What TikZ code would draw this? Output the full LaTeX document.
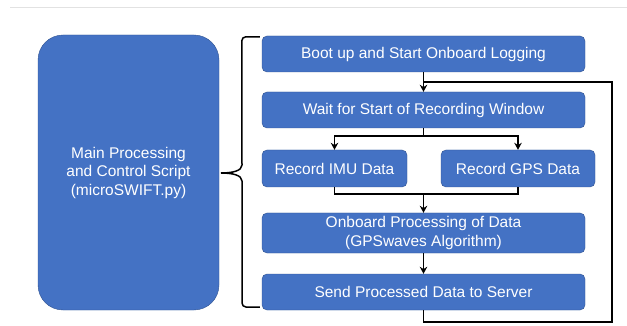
\documentclass[tikz,border=0pt]{standalone}
\usepackage{fontspec}
\setmainfont{Liberation Sans}
\usetikzlibrary{arrows.meta, positioning}
\definecolor{officeblue}{HTML}{4472C4}
\definecolor{edgeblue}{HTML}{2F528F}
\definecolor{rulegray}{HTML}{E2E2E2}

\begin{document}
\begin{tikzpicture}[x=1pt, y=-1pt,
  stepbox/.style={rectangle, rounded corners=5pt, draw=edgeblue, fill=officeblue, text=white, align=center, font=\fontsize{15.5}{18.5}\selectfont, inner sep=0pt},
  flow/.style={line width=1.5pt, >={Stealth[length=7pt,width=7.5pt]}}]
\useasboundingbox (0,0) rectangle (627,326);
\draw[rulegray, line width=1pt] (10,8) -- (627,8);

% Script box on the left
\node[stepbox, rounded corners=25pt, minimum width=181pt, minimum height=275pt] (main) at (128.5,172.5) {Main Processing\\and Control Script\\(microSWIFT.py)};

% Steps of the loop
\node[stepbox, minimum width=323pt, minimum height=36pt] (boot) at (423.5,54) {Boot up and Start Onboard Logging};
\node[stepbox, minimum width=323pt, minimum height=36pt] (wait) at (423.5,110) {Wait for Start of Recording Window};
\node[stepbox, minimum width=145pt, minimum height=37pt] (imu) at (334.5,168.5) {Record IMU Data};
\node[stepbox, minimum width=154pt, minimum height=37pt] (gps) at (518,168.5) {Record GPS Data};
\node[stepbox, minimum width=323pt, minimum height=40pt] (proc) at (423.5,233) {Onboard Processing of Data\\(GPSwaves Algorithm)};
\node[stepbox, minimum width=323pt, minimum height=36pt] (send) at (423.5,292) {Send Processed Data to Server};

% Brace
\coordinate (bracetop) at ([xshift=-2pt, yshift=-1pt]boot.north west);
\coordinate (bracebot) at ([xshift=-2pt, yshift=3pt]send.south west);
\coordinate (bracetip) at (221,173);
\draw[flow] (bracetop) -- ++(-14,0) to[out=180,in=90] ++(-4,4) -- (242,165)
  .. controls (242,171) and (232,173) .. (bracetip)
  .. controls (232,173) and (242,175) .. (242,181) -- (242,303)
  to[out=-90,in=180] ++(4,4) -- (bracebot);

% Junctions
\coordinate (split) at (423.5,136);
\coordinate (join) at (423.5,194);
\coordinate (loopin) at (423.5,82);
\coordinate (looptop) at (612,82);
\coordinate (loopbot) at (612,322);

% Arrows
\draw[flow,->] (boot) -- (wait);
\draw[flow] (wait.south) -- (split);
\draw[flow,->] (split) -| (imu.north);
\draw[flow,->] (split) -| (gps.north);
\draw[flow] (imu.south) |- (join);
\draw[flow] (gps.south) |- (join);
\draw[flow,->] (join) -- (proc);
\draw[flow,->] (proc) -- (send);
\draw[flow] (send.south) |- (loopbot) -- (looptop) -- (loopin);
\end{tikzpicture}
\end{document}
